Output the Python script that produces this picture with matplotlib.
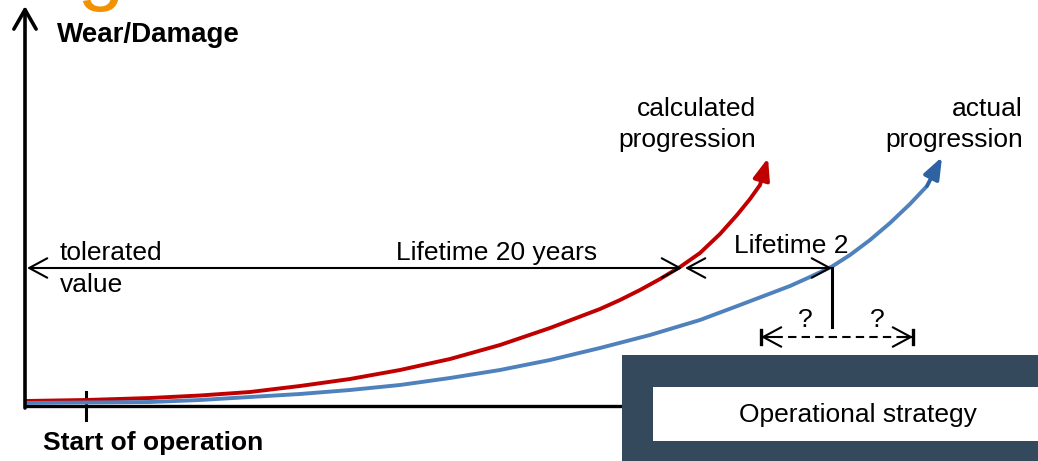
import matplotlib.pyplot as plt
from matplotlib.patches import Rectangle

plt.rcParams['font.family'] = ['Liberation Sans', 'DejaVu Sans']

# schematic units: time to the right, wear upward, origin at the axes corner
calc_t = [0, 61, 125, 175, 225, 275, 325, 375, 425, 475, 525, 575, 595, 615,
          635, 655, 675, 695, 712, 725, 735]
calc_w = [4, 5, 7, 9.5, 13, 19, 26, 35, 46, 60, 77, 96, 105, 115,
          126, 138, 152, 171, 190, 206, 220]
calc_tip = (743, 247)

actual_t = [0, 125, 175, 225, 275, 325, 375, 425, 475, 525, 575, 625, 675,
            715, 765, 785, 807, 825, 845, 865, 885, 902]
actual_w = [2, 3, 5, 8, 11, 15, 20, 27, 35, 45, 57, 70, 85,
            100, 119, 128, 138.5, 150, 165, 182, 201, 219]
actual_tip = (917, 248)

tolerated = 137
lifetime_20_end = 657
lifetime_2_end = 807
start_t = 61
strategy_range = (736, 888)

RED = '#c00000'
BLUE = '#4f81bd'
BLUE_HEAD = '#2e62a3'
SLATE = '#34495c'

fig = plt.figure(figsize=(10.38, 4.61), dpi=100)
ax = fig.add_axes([0, 0, 1, 1])
ax.set_xlim(-25, 1013)
ax.set_ylim(-56, 405)
ax.axis('off')

# axes of the diagram
ax.plot([0, 600], [-1, -1], color='black', lw=2.4, solid_capstyle='butt')
ax.annotate('', xy=(0, 399), xytext=(0, -3),
            arrowprops=dict(arrowstyle='->,head_length=1.4,head_width=0.8',
                            mutation_scale=10, lw=2.6, color='black',
                            shrinkA=0, shrinkB=0))
ax.plot([start_t, start_t], [13, -15], color='black', lw=2.2)

# progression curves
ax.plot(calc_t, calc_w, color=RED, lw=2.8, solid_capstyle='butt', solid_joinstyle='round')
ax.annotate('', xy=calc_tip, xytext=(calc_t[-1], calc_w[-1]),
            arrowprops=dict(arrowstyle='-|>,head_length=1.3,head_width=0.5',
                            mutation_scale=10, lw=2.8, color=RED,
                            shrinkA=0, shrinkB=0))
ax.plot(actual_t, actual_w, color=BLUE, lw=2.8, solid_capstyle='butt', solid_joinstyle='round')
ax.annotate('', xy=actual_tip, xytext=(actual_t[-1], actual_w[-1]),
            arrowprops=dict(arrowstyle='-|>,head_length=1.3,head_width=0.5',
                            mutation_scale=10, lw=2.8, color=BLUE_HEAD,
                            fc=BLUE_HEAD, shrinkA=0, shrinkB=0))

# lifetime dimension arrows
dim_style = '<->,head_length=1.3,head_width=0.7'
ax.annotate('', xy=(lifetime_20_end, tolerated), xytext=(2, tolerated),
            arrowprops=dict(arrowstyle=dim_style, mutation_scale=10, lw=1.5,
                            color='black', shrinkA=0, shrinkB=0))
ax.annotate('', xy=(lifetime_2_end, tolerated), xytext=(lifetime_20_end + 3, tolerated),
            arrowprops=dict(arrowstyle=dim_style, mutation_scale=10, lw=1.5,
                            color='black', shrinkA=0, shrinkB=0))
ax.plot([lifetime_2_end, lifetime_2_end], [tolerated, 78], color='black', lw=2.2)

# uncertain range of the operational strategy
y_q = 68
ax.plot(strategy_range, [y_q, y_q], color='black', lw=1.5, ls=(0, (4, 2.5)))
for end, step in [(strategy_range[0], 14), (strategy_range[1], -14)]:
    ax.annotate('', xy=(end, y_q), xytext=(end + step, y_q),
                arrowprops=dict(arrowstyle='->,head_length=1.3,head_width=0.7',
                                mutation_scale=10, lw=1.5, color='black',
                                shrinkA=0, shrinkB=0))
    ax.plot([end, end], [y_q + 7, y_q - 7], color='black', lw=2.4)
ax.text(780, 85, '?', fontsize=19, ha='center', va='center')
ax.text(852, 85, '?', fontsize=19, ha='center', va='center')

# operational strategy box
ax.add_patch(Rectangle((597, -70), 460, 120, color=SLATE, lw=0, zorder=3))
ax.add_patch(Rectangle((628, -36), 430, 54, color='white', lw=0, zorder=4))
ax.text(833, -10, 'Operational strategy', fontsize=19, ha='center', va='center', zorder=5)

# labels
ax.text(-3, 411, 'Age', fontsize=61, color='#f39200', ha='left', va='baseline')
ax.text(32, 370, 'Wear/Damage', fontsize=20, fontweight='bold', ha='left', va='center')
ax.text(18, -38, 'Start of operation', fontsize=19, fontweight='bold', ha='left', va='center')
ax.text(35, 152, 'tolerated', fontsize=19, ha='left', va='center')
ax.text(35, 120, 'value', fontsize=19, ha='left', va='center')
ax.text(472, 152, 'Lifetime 20 years', fontsize=19, ha='center', va='center')
ax.text(766, 159, 'Lifetime 2', fontsize=19, ha='center', va='center')
ax.text(731, 296, 'calculated', fontsize=19, ha='right', va='center')
ax.text(731, 265, 'progression', fontsize=19, ha='right', va='center')
ax.text(998, 296, 'actual', fontsize=19, ha='right', va='center')
ax.text(998, 265, 'progression', fontsize=19, ha='right', va='center')

fig.savefig('out.png', dpi=100)
